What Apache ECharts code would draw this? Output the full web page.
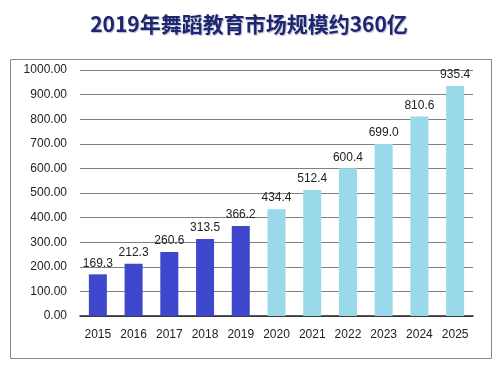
<!DOCTYPE html>
<html><head><meta charset="utf-8">
<script src="https://cdn.jsdelivr.net/npm/echarts@6/dist/echarts.min.js"></script>
<style>html,body{margin:0;padding:0;background:#fff}#c{width:498px;height:372px}</style>
</head><body><div id="c"></div>
<script>
const categories = ['2015','2016','2017','2018','2019','2020','2021','2022','2023','2024','2025'];
const values = [169.3, 212.3, 260.6, 313.5, 366.2, 434.4, 512.4, 600.4, 699.0, 810.6, 935.4];
const actualCount = 5;
const colorActual = '#3F48CC';
const colorForecast = '#99D9EA';
const titleText = '2019年舞蹈教育市场规模约360亿';

const chart = echarts.init(document.getElementById('c'));
chart.setOption({
  animation: false,
  title: {
    text: titleText, left: 'center', top: 9,
    textStyle: { fontFamily: 'Noto Sans CJK SC', fontWeight: 'bold', fontSize: 21, color: '#1F2670',
      textShadowColor: 'rgba(120,120,160,0.5)', textShadowBlur: 1, textShadowOffsetX: 1, textShadowOffsetY: 1 }
  },
  graphic: [{ type: 'rect', left: 8, top: 57, shape: { width: 481, height: 299 },
    style: { fill: 'none', stroke: '#888', lineWidth: 1 }, z: -1 }],
  grid: { left: 80, right: 25, top: 70, bottom: 56, containLabel: false },
  xAxis: {
    type: 'category', data: categories,
    axisLine: { lineStyle: { color: '#222', width: 1.5 } },
    axisTick: { show: false },
    axisLabel: { color: '#222', fontFamily: 'Liberation Sans', fontSize: 12, margin: 13 }
  },
  yAxis: {
    type: 'value', min: 0, max: 1000, interval: 100,
    axisLine: { show: false }, axisTick: { show: false },
    splitLine: { lineStyle: { color: '#808080', width: 1 } },
    axisLabel: { color: '#222', fontFamily: 'Liberation Sans', fontSize: 12, margin: 13,
      formatter: v => v.toFixed(2) }
  },
  series: [{
    type: 'bar', barWidth: 18,
    data: values.map((v, i) => ({ value: v, itemStyle: { color: i < actualCount ? colorActual : colorForecast } })),
    label: { show: true, position: 'top', color: '#222', fontFamily: 'Liberation Sans', fontSize: 12, distance: 5,
      formatter: p => p.value.toFixed(1) }
  }]
});
</script></body></html>
